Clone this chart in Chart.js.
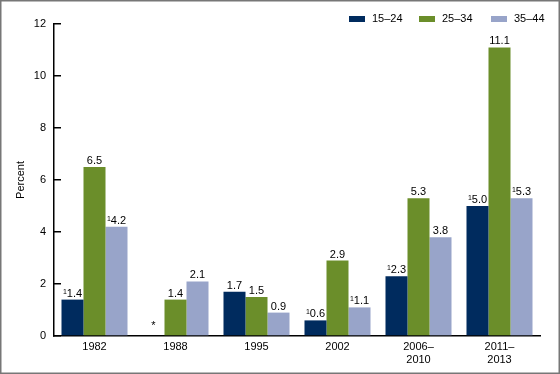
<!DOCTYPE html>
<html>
<head>
<meta charset="utf-8">
<script src="https://cdn.jsdelivr.net/npm/chart.js@4/dist/chart.umd.min.js"></script>
<style>
  body { margin: 0; background: #fff; }
  canvas { display: block; }
</style>
</head>
<body>
<canvas id="myChart" width="560" height="374"></canvas>
<script>
// Survey periods (x axis) //
const periods = ["1982", "1988", "1995", "2002", ["2006–", "2010"], ["2011–", "2013"]];
// Age groups //
const ageGroups = ["15–24", "25–34", "35–44"];
// Percent values per age group, null = does not meet standards of reliability //
const age15to24 = [1.4, null, 1.7, 0.6, 2.3, 5.0];
const age25to34 = [6.5, 1.4, 1.5, 2.9, 5.3, 11.1];
const age35to44 = [4.2, 2.1, 0.9, 1.1, 3.8, 5.3];
// footnote 1 markers on the value labels //
const note15to24 = [1, 0, 0, 1, 1, 1];
const note25to34 = [0, 0, 0, 0, 0, 0];
const note35to44 = [1, 0, 0, 1, 0, 1];
// y axis ticks //
const yTicks = [0, 2, 4, 6, 8, 10, 12];

const colors = ["#002b5e", "#6b8e2a", "#98a4c9"];
const notes = [note15to24, note25to34, note35to44];
const FONT = '"Liberation Sans", Arial, sans-serif';

// value labels, star, legend and frame //
const extras = {
  id: 'extras',
  afterDatasetsDraw(chart) {
    const ctx = chart.ctx;
    const zeroY = chart.scales.y.getPixelForValue(0);
    ctx.save();
    ctx.fillStyle = '#000';
    chart.data.datasets.forEach((ds, di) => {
      const meta = chart.getDatasetMeta(di);
      meta.data.forEach((bar, i) => {
        const v = ds.data[i];
        ctx.textBaseline = 'alphabetic';
        if (v === null) {
          ctx.font = '11px ' + FONT;
          ctx.textAlign = 'center';
          ctx.fillText('*', bar.x, zeroY - 7);
          return;
        }
        const txt = v.toFixed(1);
        ctx.font = '11px ' + FONT;
        const w = ctx.measureText(txt).width;
        let sw = 0;
        if (notes[di][i]) {
          ctx.font = '7px ' + FONT;
          sw = ctx.measureText('1').width;
        }
        const left = bar.x - (w + sw) / 2;
        const base = bar.y - 3;
        if (sw) {
          ctx.textAlign = 'left';
          ctx.fillText('1', left, base - 3);
        }
        ctx.font = '11px ' + FONT;
        ctx.textAlign = 'left';
        ctx.fillText(txt, left + sw, base);
      });
    });

    // legend //
    const legendX = [349, 419, 491];
    ctx.font = '11px ' + FONT;
    ctx.textAlign = 'left';
    ctx.textBaseline = 'middle';
    ageGroups.forEach((g, k) => {
      ctx.fillStyle = colors[k];
      ctx.fillRect(legendX[k], 16, 16, 6);
      ctx.fillStyle = '#000';
      ctx.fillText(g, legendX[k] + 23, 19);
    });

    // frame //
    ctx.strokeStyle = '#777';
    ctx.lineWidth = 1.5;
    ctx.strokeRect(0.75, 0.75, 558.5, 372.5);
    ctx.restore();
  }
};

new Chart("myChart", {
  type: "bar",
  data: {
    labels: periods,
    datasets: [
      { label: ageGroups[0], data: age15to24, backgroundColor: colors[0] },
      { label: ageGroups[1], data: age25to34, backgroundColor: colors[1] },
      { label: ageGroups[2], data: age35to44, backgroundColor: colors[2] }
    ]
  },
  options: {
    responsive: false,
    animation: false,
    devicePixelRatio: 1,
    layout: { padding: { top: 24, right: 20, bottom: 0, left: 0 } },
    datasets: { bar: { categoryPercentage: 0.815, barPercentage: 1.0 } },
    plugins: {
      legend: { display: false },
      tooltip: { enabled: false }
    },
    scales: {
      x: {
        grid: { drawOnChartArea: false, drawTicks: false },
        border: { color: '#000', width: 1.5 },
        ticks: { color: '#000', padding: 4, maxRotation: 0, font: { family: FONT, size: 11 } },
        afterFit: s => { s.height = 38; }
      },
      y: {
        min: 0,
        max: 12,
        afterBuildTicks: s => { s.ticks = yTicks.map(v => ({ value: v })); },
        grid: { drawOnChartArea: false, drawTicks: true, tickLength: -7, color: '#000', lineWidth: 1.5 },
        border: { color: '#000', width: 1.5 },
        ticks: { color: '#000', padding: 15, font: { family: FONT, size: 11 } },
        title: { display: true, text: 'Percent', color: '#000', padding: { top: 14, bottom: 0 }, font: { family: FONT, size: 11 } },
        afterFit: s => { s.width = 54; }
      }
    }
  },
  plugins: [extras]
});
</script>
</body>
</html>
